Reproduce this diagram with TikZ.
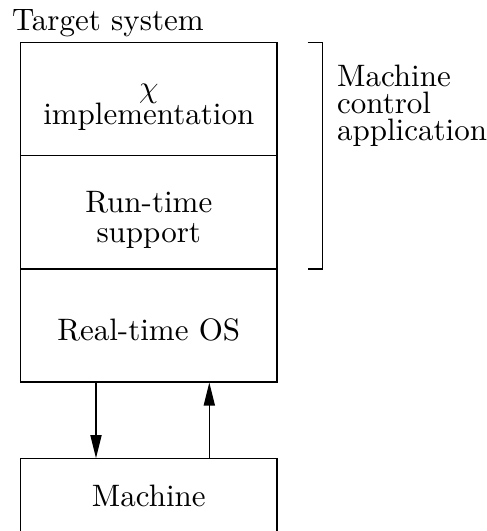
\documentclass[tikz,border=0pt]{standalone}
\usetikzlibrary{arrows.meta}
\def\pu{0.3226pt}
\tikzset{
  layer/.style={draw, line width=0.4pt, inner sep=0pt,
    minimum width=256.5*\pu, minimum height=113.1*\pu},
  layer text/.style={inner sep=0pt, align=center,
    font={\fontsize{10}{#1}\selectfont\lineskiplimit=-10pt}},
  layer text/.default=9.5pt,
  label text/.style={inner sep=0pt, align=left,
    font={\fontsize{10}{8.7}\selectfont\lineskiplimit=-10pt}},
  flow/.style={line width=0.4pt, -{Triangle[length=7.4pt,width=3.6pt]}},
}
\begin{document}
\begin{tikzpicture}[x=\pu, y=-\pu]
  \useasboundingbox (0,0) rectangle (486,531);
  \clip (0,0) rectangle (486,531);

  % title of the target system
  \node[inner sep=0pt, anchor=base west, font={\fontsize{10}{12}\selectfont}] (title) at (11.5,30.5) {Target system};

  % layered software stack
  \node[layer] (impl) at (148.75,99.25) {};
  \node[layer] (rts)  at (148.75,212.35) {};
  \node[layer] (os)   at (148.75,325.45) {};
  \node[layer text=8.9pt] (impltext) at (148.75,107.4) {$\chi$\\implementation};
  \node[layer text] (rtstext) at (148.75,219.9) {Run-time\\support};
  \node[layer text] (ostext)  at (148.75,329.5) {Real-time OS};

  % the controlled machine
  \node[layer, minimum height=77*\pu] (machine) at (148.75,497.2) {};
  \node[layer text] (machinetext) at (148.75,496) {Machine};

  % bracket around the application layers
  \coordinate (btop) at (307.5,42.7);
  \coordinate (bbot) at (307.5,268.9);
  \draw[line width=0.4pt] (btop) -- ++(15,0) |- (bbot);
  \node[label text, anchor=north west] (app) at (336.5,64.7) {Machine\\control\\application};

  % signals between OS and machine
  \coordinate (dn) at (96,0);
  \coordinate (upc) at (209.3,0);
  \draw[flow] (os.south -| dn) -- (machine.north -| dn);
  \draw[flow] (machine.north -| upc) -- (os.south -| upc);
\end{tikzpicture}
\end{document}
